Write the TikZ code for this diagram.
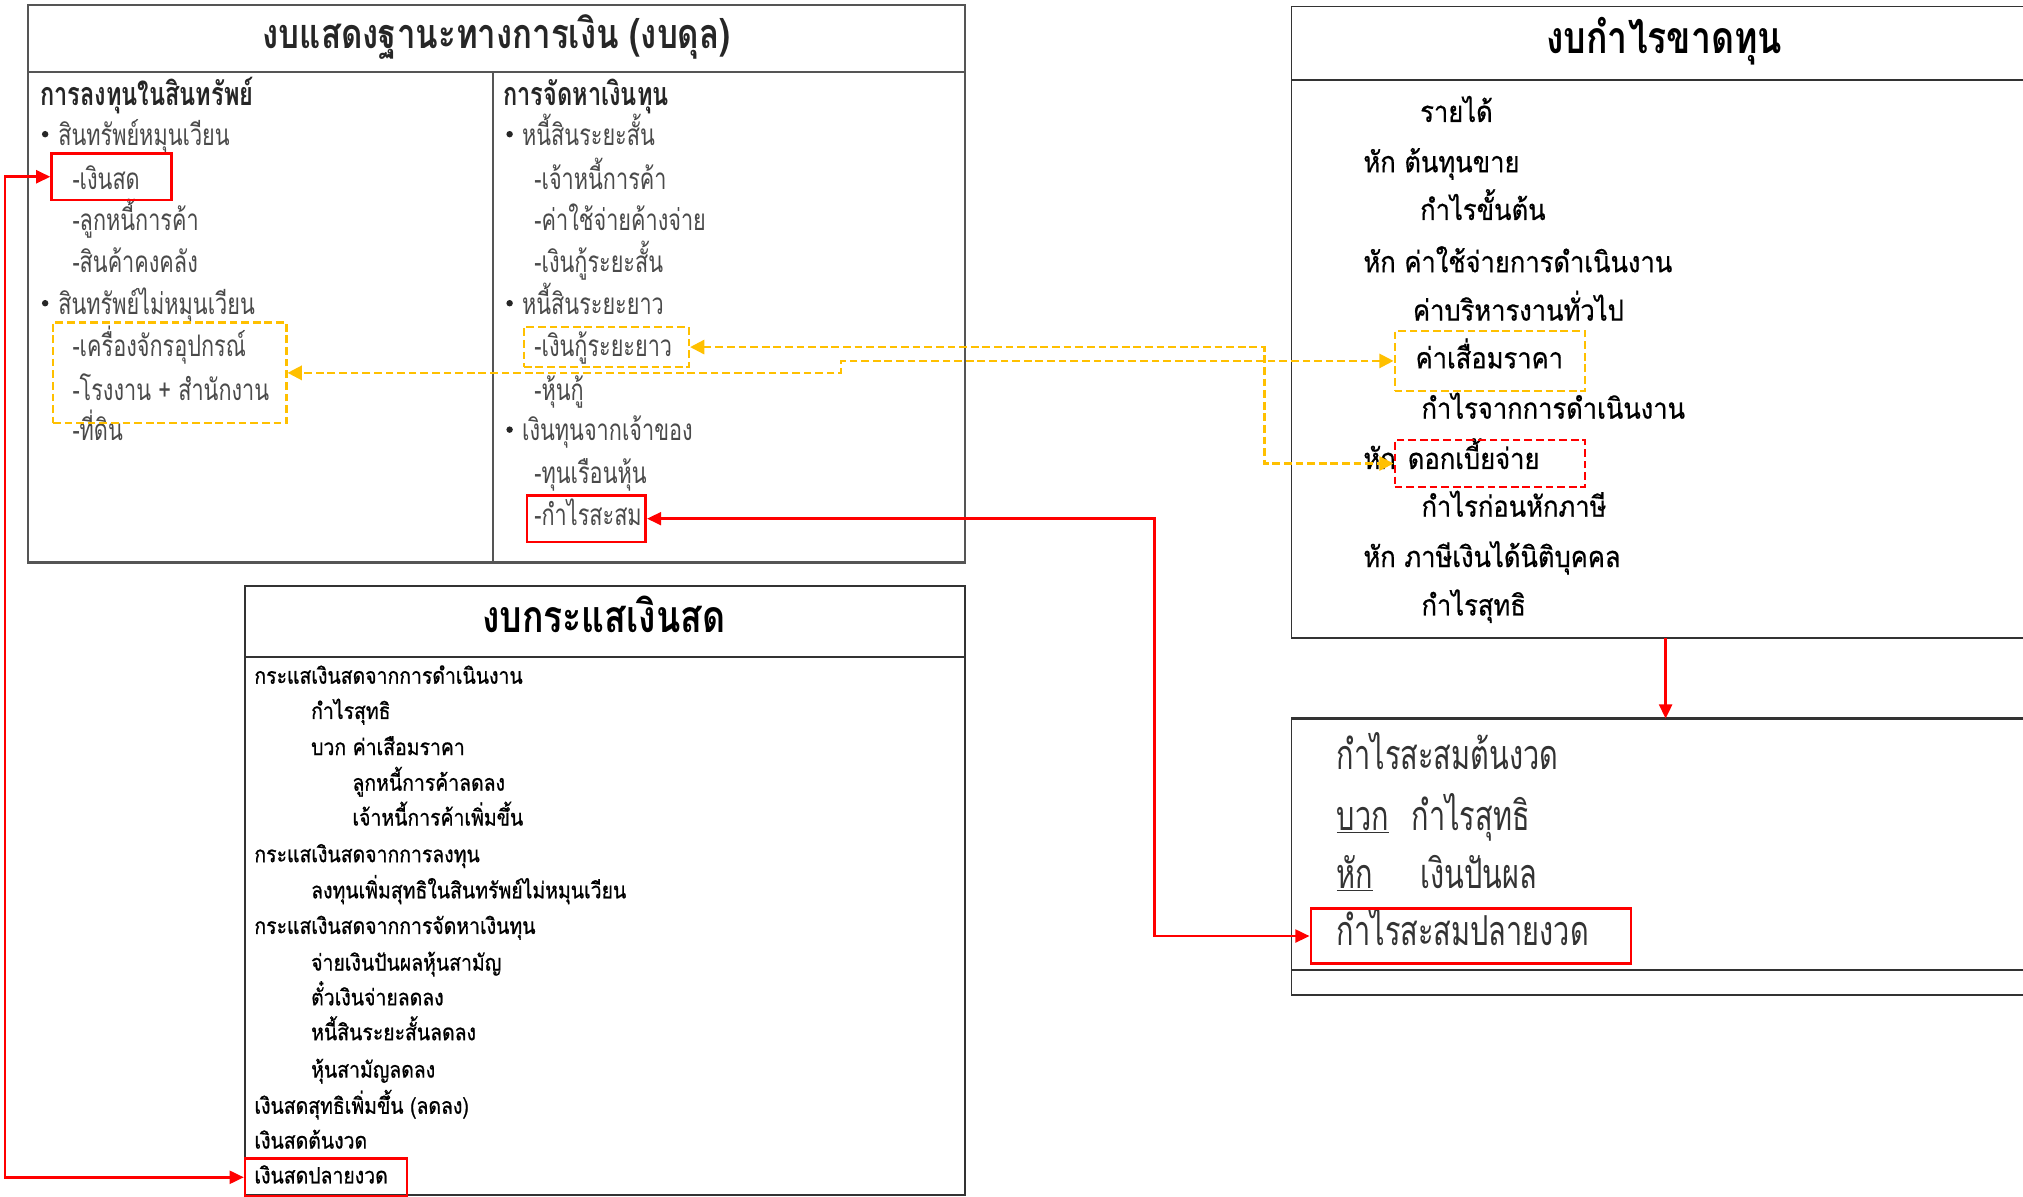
\documentclass[tikz,border=0pt]{standalone}
\usepackage{fontspec}
\usetikzlibrary{arrows.meta}
\newfontfamily\thb[Script=Thai,FakeStretch=0.73]{Loma}
\newfontfamily\tht[Script=Thai,FakeStretch=0.8]{Loma}
\newfontfamily\thi[Script=Thai,FakeStretch=0.88,FakeBold=0.6]{Loma}
\newfontfamily\thk[Script=Thai,FakeStretch=0.86,FakeBold=0.8]{Loma}
\newfontfamily\thr[Script=Thai,FakeStretch=0.7]{Loma}
\newfontfamily\thf[Script=Thai]{Loma}
\definecolor{balgray}{HTML}{4A4A4A}
\definecolor{boxgray}{HTML}{555555}
\definecolor{redc}{HTML}{FF0000}
\definecolor{yelc}{HTML}{FFC000}
\tikzset{
  tx/.style={anchor=west, inner sep=0pt, text depth=0pt},
  bal/.style={tx, text=balgray, font=\thb\fontsize{23}{23}\selectfont, text height=11pt},
  balh/.style={tx, text=black!85, font=\thb\bfseries\fontsize{25}{25}\selectfont, text height=12pt},
  bul/.style={circle, fill=black!85, inner sep=0pt, minimum size=5pt},
  ttl/.style={anchor=center, inner sep=0pt, text depth=0pt, text height=15pt},
  inc/.style={tx, text=black, font=\thi\fontsize{22.5}{22.5}\selectfont, text height=11pt},
  cf/.style={tx, text=black, font=\thk\fontsize{17.5}{17.5}\selectfont, text height=8.5pt},
  rt/.style={tx, text=black!80, font=\thr\fontsize{32}{32}\selectfont, text height=15pt},
  redbox/.style={draw=redc, line width=2pt, inner sep=0pt},
  yelbox/.style={draw=yelc, line width=1.8pt, dash pattern=on 6pt off 3pt, inner sep=0pt},
  reddbox/.style={draw=redc, line width=1.8pt, dash pattern=on 6pt off 3pt, inner sep=0pt},
  redln/.style={draw=redc, line width=2pt, {Triangle[length=11pt,width=10pt]}-{Triangle[length=11pt,width=10pt]}},
  yln/.style={draw=yelc, line width=1.8pt, dash pattern=on 6pt off 3pt, {Triangle[length=11pt,width=11pt]}-{Triangle[length=11pt,width=11pt]}},
  frame/.style={draw=boxgray, line width=1.6pt},
  frameb/.style={draw=black!80, line width=1.4pt}
}
\begin{document}
\begin{tikzpicture}[x=1pt,y=-1pt]
\fill[white] (0,0) rectangle (1568,927);
\useasboundingbox (0,0) rectangle (1568,927);

% ---------- Balance sheet ----------
\draw[frame] (22,4) rectangle (748,436);
\draw[frame] (22,56) -- (748,56);
\draw[frame] (382,56) -- (382,436);
\node[ttl, text=black!85, font=\tht\bfseries\fontsize{32}{32}\selectfont] (bt) at (385,30) {งบแสดงฐานะทางการเงิน (งบดุล)};

\node[balh] (h1) at (31,76) {การลงทุนในสินทรัพย์};
\node[bul] (bu1) at (35,104) {};
\node[bal] (b1) at (45,107) {สินทรัพย์หมุนเวียน};
\node[bal] (b2) at (56,141) {-เงินสด};
\node[bal] (b3) at (56,173) {-ลูกหนี้การค้า};
\node[bal] (b4) at (56,205.5) {-สินค้าคงคลัง};
\node[bul] (bu2) at (35,235) {};
\node[bal] (b5) at (45,238) {สินทรัพย์ไม่หมุนเวียน};
\node[bal] (b6) at (56,271) {-เครื่องจักรอุปกรณ์};
\node[bal] (b7) at (56,305) {-โรงงาน + สำนักงาน};
\node[bal] (b8) at (56,336) {-ที่ดิน};

\node[balh] (h2) at (390,76) {การจัดหาเงินทุน};
\node[bul] (bu3) at (395,104) {};
\node[bal] (c1) at (404.5,107) {หนี้สินระยะสั้น};
\node[bal] (c2) at (414,141) {-เจ้าหนี้การค้า};
\node[bal] (c3) at (414,173) {-ค่าใช้จ่ายค้างจ่าย};
\node[bal] (c4) at (414,205.5) {-เงินกู้ระยะสั้น};
\node[bul] (bu4) at (395,235) {};
\node[bal] (c5) at (404.5,238) {หนี้สินระยะยาว};
\node[bal] (c6) at (414,271) {-เงินกู้ระยะยาว};
\node[bal] (c7) at (414,305) {-หุ้นกู้};
\node[bul] (bu5) at (395,333) {};
\node[bal] (c8) at (404.5,336) {เงินทุนจากเจ้าของ};
\node[bal] (c9) at (414,369.5) {-ทุนเรือนหุ้น};
\node[bal] (c10) at (414,402) {-กำไรสะสม};

\node[redbox, minimum width=93pt, minimum height=36pt] (cashbx) at (86.5,137) {};
\node[yelbox, minimum width=181pt, minimum height=78pt] (machbx) at (131.5,289) {};
\node[yelbox, minimum width=128pt, minimum height=31pt] (ltlbx) at (470,269) {};
\node[redbox, minimum width=92pt, minimum height=36pt] (resbx) at (454.5,402) {};

% ---------- Income statement ----------
\draw[frameb] (1568,5) -- (1001,5) -- (1001,494.5) -- (1568,494.5);
\draw[frameb] (1001,62) -- (1568,62);
\node[ttl, text=black, font=\tht\bfseries\fontsize{34.5}{34.5}\selectfont] (it) at (1290,33.6) {งบกำไรขาดทุน};
\node[inc] (i1) at (1100.6,89) {รายได้};
\node[inc] (i2) at (1056.6,128) {หัก ต้นทุนขาย};
\node[inc] (i3) at (1100.6,165) {กำไรขั้นต้น};
\node[inc] (i4) at (1056.6,205.5) {หัก ค่าใช้จ่ายการดำเนินงาน};
\node[inc] (i5) at (1095,243) {ค่าบริหารงานทั่วไป};
\node[inc] (i6) at (1097,280) {ค่าเสื่อมราคา};
\node[inc] (i7) at (1101.6,319) {กำไรจากการดำเนินงาน};
\node[inc] (i8) at (1056.6,358) {หัก};
\node[inc] (i9) at (1091,358) {ดอกเบี้ยจ่าย};
\node[inc] (i10) at (1101.6,395) {กำไรก่อนหักภาษี};
\node[inc] (i11) at (1056.6,434) {หัก ภาษีเงินได้นิติบุคคล};
\node[inc] (i12) at (1101.6,471.5) {กำไรสุทธิ};
\node[yelbox, minimum width=147.5pt, minimum height=46.5pt] (depbx) at (1154.75,279.75) {};
\node[reddbox, minimum width=147.5pt, minimum height=36.5pt] (intbx) at (1154.75,359.25) {};

% ---------- Retained earnings ----------
\draw[frameb, line width=2.6pt] (1001,557) -- (1568,557);
\draw[frameb] (1001,557) -- (1001,771) -- (1568,771);
\draw[frameb] (1001,752) -- (1568,752);
\node[rt] (r1) at (1036,589) {กำไรสะสมต้นงวด};
\node[rt] (r2) at (1036,636) {\underline{บวก}};
\node[rt] (r3) at (1094,636) {กำไรสุทธิ};
\node[rt] (r4) at (1036,681) {\underline{หัก}};
\node[rt] (r5) at (1101,681) {เงินปันผล};
\node[rt] (r6) at (1036,725) {กำไรสะสมปลายงวด};
\node[redbox, minimum width=248pt, minimum height=43pt] (rebx) at (1140,725.5) {};

% ---------- Cash flow ----------
\draw[frameb] (190,454) rectangle (748,926);
\draw[frameb] (190,509.5) -- (748,509.5);
\node[ttl, text=black, font=\tht\bfseries\fontsize{34.5}{34.5}\selectfont] (ct) at (468,483) {งบกระแสเงินสด};
\node[cf] (f1) at (197,525.7) {กระแสเงินสดจากการดำเนินงาน};
\node[cf] (f2) at (241,553) {กำไรสุทธิ};
\node[cf] (f3) at (241,581) {บวก ค่าเสือมราคา};
\node[cf] (f4) at (273,608.6) {ลูกหนี้การค้าลดลง};
\node[cf] (f5) at (273,635.6) {เจ้าหนี้การค้าเพิ่มขึ้น};
\node[cf] (f6) at (197,664) {กระแสเงินสดจากการลงทุน};
\node[cf] (f7) at (241,692) {ลงทุนเพิ่มสุทธิในสินทรัพย์ไม่หมุนเวียน};
\node[cf] (f8) at (197,719.6) {กระแสเงินสดจากการจัดหาเงินทุน};
\node[cf] (f9) at (241,748) {จ่ายเงินปันผลหุ้นสามัญ};
\node[cf] (f10) at (241,775) {ตั๋วเงินจ่ายลดลง};
\node[cf] (f11) at (241,802) {หนี้สินระยะสั้นลดลง};
\node[cf] (f12) at (241,831) {หุ้นสามัญลดลง};
\node[cf] (f13) at (197,859) {เงินสดสุทธิเพิ่มขึ้น (ลดลง)};
\node[cf] (f14) at (197,886) {เงินสดต้นงวด};
\node[cf] (f15) at (197,913) {เงินสดปลายงวด};
\node[redbox, minimum width=125.5pt, minimum height=29pt] (cebx) at (252.75,912.5) {};

% ---------- Connectors ----------
\coordinate (cL) at (4,0);
\coordinate (cR) at (895,0);
\coordinate (cY1) at (980,0);
\coordinate (cY2) at (652,0);
\coordinate (isb) at (1291,494.5);
\coordinate (ret) at (1291,557);

\draw[redln] (cebx.west) -- (cebx.west -| cL) -- (cashbx.west -| cL) -- (cashbx.west);
\draw[redln] (rebx.west) -- (rebx.west -| cR) -- (resbx.east -| cR) -- (resbx.east);
\draw[yln] (ltlbx.east) -- (ltlbx.east -| cY1) -- (intbx.west -| cY1) -- (intbx.west);
\draw[yln] (depbx.west) -- (depbx.west -| cY2) -- (machbx.east -| cY2) -- (machbx.east);
\draw[draw=redc, line width=2pt, -{Triangle[length=11pt,width=10pt]}] (isb) -- (ret);
\end{tikzpicture}
\end{document}
